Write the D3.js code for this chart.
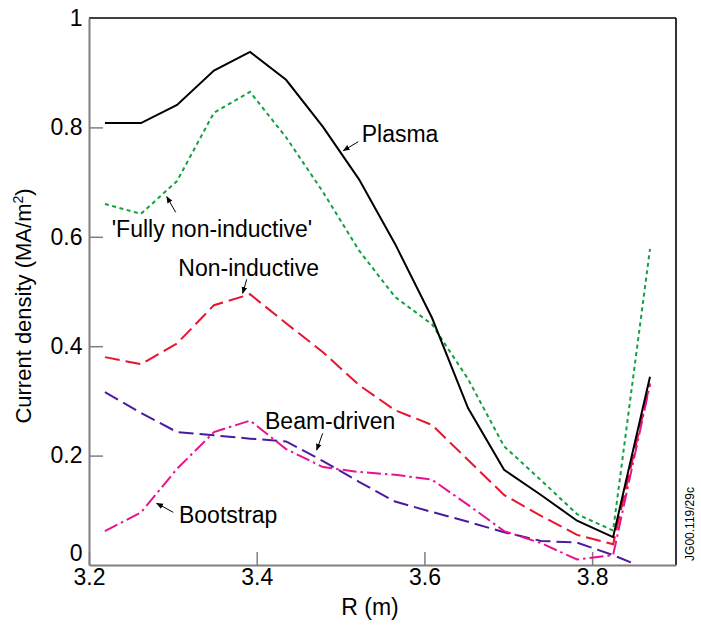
<!DOCTYPE html>
<html>
<head>
<meta charset="utf-8">
<script src="https://cdn.jsdelivr.net/npm/d3@7"></script>
<style>
  html, body { margin: 0; padding: 0; background: #fff; }
  svg { display: block; }
  text { font-family: "Liberation Sans", Arial, sans-serif; fill: #000; }
</style>
</head>
<body>
<svg id="chart" width="701" height="625"></svg>
<script>
// ---------- data ----------
const R = [3.219, 3.262, 3.305, 3.349, 3.392, 3.435, 3.479, 3.522, 3.565, 3.609, 3.652, 3.695, 3.739, 3.782, 3.825, 3.869];
const plasma       = [0.808, 0.808, 0.841, 0.904, 0.938, 0.887, 0.801, 0.705, 0.587, 0.452, 0.287, 0.174, 0.128, 0.081, 0.051, 0.344];
const fullyNonInd  = [0.660, 0.642, 0.702, 0.827, 0.865, 0.782, 0.682, 0.575, 0.490, 0.440, 0.340, 0.217, 0.155, 0.093, 0.063, 0.578];
const nonInductive = [0.380, 0.367, 0.405, 0.475, 0.495, 0.442, 0.389, 0.329, 0.283, 0.256, 0.192, 0.128, 0.090, 0.055, 0.038, 0.332];
const bootstrap    = [0.062, 0.096, 0.176, 0.243, 0.264, 0.212, 0.179, 0.170, 0.165, 0.156, 0.110, 0.062, 0.040, 0.010, 0.018, 0.330];
const R_beam       = [3.219, 3.262, 3.305, 3.349, 3.392, 3.435, 3.479, 3.522, 3.565, 3.609, 3.652, 3.695, 3.739, 3.782, 3.825, 3.849];
const beamDriven   = [0.316, 0.278, 0.243, 0.237, 0.231, 0.226, 0.190, 0.152, 0.116, 0.097, 0.079, 0.060, 0.044, 0.041, 0.018, 0.003];

const xTicks = [3.2, 3.4, 3.6, 3.8];
const xTickLabels = ["3.2", "3.4", "3.6", "3.8"];
const yTicks = [0, 0.2, 0.4, 0.6, 0.8, 1];
const yTickLabels = ["0", "0.2", "0.4", "0.6", "0.8", "1"];

// annotations: label position and arrow (from -> to), in data units
const annLabels = ["Plasma", "'Fully non-inductive'", "Non-inductive", "Beam-driven", "Bootstrap"];
const annTextR  = [3.5252, 3.2271, 3.3065, 3.4099, 3.3073];
const annTextJ  = [0.7742, 0.5996, 0.5283, 0.2495, 0.0773];
const annFromR  = [3.5211, 3.3034, 3.3881, 3.4787, 3.3005];
const annFromJ  = [0.7739, 0.6448, 0.5223, 0.2408, 0.0963];
const annToR    = [3.5033, 3.2927, 3.3833, 3.4715, 3.2807];
const annToJ    = [0.7574, 0.6733, 0.4967, 0.2102, 0.1128];

// ---------- layout ----------
const svg = d3.select("#chart");
const margin = {left: 89, top: 18, right: 25, bottom: 60};
const W = 701, H = 625;
const x = d3.scaleLinear().domain([3.2, 3.9]).range([margin.left, W - margin.right]);
const y = d3.scaleLinear().domain([0, 1]).range([H - margin.bottom, margin.top]);

const axisGray = "#7f7f7f";
const FS = 23;

// frame (top & right in black)
svg.append("line").attr("x1", x(3.2)).attr("x2", x(3.9)).attr("y1", y(1)).attr("y2", y(1))
  .attr("stroke", "#000").attr("stroke-width", 1.6);
svg.append("line").attr("x1", x(3.9)).attr("x2", x(3.9)).attr("y1", y(1)).attr("y2", y(0))
  .attr("stroke", "#000").attr("stroke-width", 1.6);

// y axis
const gy = svg.append("g").attr("transform", `translate(${margin.left},0)`)
  .call(d3.axisLeft(y).tickValues(yTicks).tickFormat((d, i) => yTickLabels[i])
        .tickSize(-14).tickSizeOuter(0).tickPadding(6.5));
gy.select(".domain").attr("stroke", axisGray).attr("stroke-width", 2);
gy.selectAll(".tick line").attr("stroke", axisGray).attr("stroke-width", 1.5)
  .filter(d => d === 0 || d === 1).remove();
gy.selectAll(".tick text").attr("font-size", FS).attr("font-family", null).attr("fill", "#000")
  .attr("dy", d => d === 0 ? "-0.2em" : "0.32em");

// x axis
const gx = svg.append("g").attr("transform", `translate(0,${H - margin.bottom})`)
  .call(d3.axisBottom(x).tickValues(xTicks).tickFormat((d, i) => xTickLabels[i])
        .tickSize(-13).tickSizeOuter(0).tickPadding(4));
gx.select(".domain").attr("stroke", axisGray).attr("stroke-width", 2);
gx.selectAll(".tick line").attr("stroke", axisGray).attr("stroke-width", 1.5);
gx.selectAll(".tick text").attr("font-size", FS).attr("font-family", null).attr("fill", "#000");

// axis titles
svg.append("text").attr("x", 370).attr("y", 615).attr("text-anchor", "middle")
  .attr("font-size", FS).text("R (m)");
const yl = svg.append("text").attr("transform", "translate(31,306) rotate(-90)")
  .attr("text-anchor", "middle").attr("font-size", 22);
yl.append("tspan").text("Current density (MA/m");
yl.append("tspan").attr("font-size", 14).attr("dy", -8).text("2");
yl.append("tspan").attr("dy", 8).text(")");

// ---------- series ----------
const line = d3.line().x(d => x(d[0])).y(d => y(d[1]));
const series = [
  {r: R, v: fullyNonInd,  color: "#12a040", dash: "4,3.5", w: 2},
  {r: R, v: nonInductive, color: "#e8142e", dash: "15,6",  w: 2},
  {r: R_beam, v: beamDriven, color: "#4a1aa0", dash: "15,6", w: 2},
  {r: R, v: bootstrap,    color: "#e8128c", dash: "14,4,2.5,4", w: 2},
  {r: R, v: plasma,       color: "#000000", dash: null,    w: 2}
];
series.forEach(s => {
  svg.append("path")
    .datum(s.r.map((r, i) => [r, s.v[i]]))
    .attr("fill", "none").attr("stroke", s.color).attr("stroke-width", s.w)
    .attr("stroke-linejoin", "miter")
    .attr("stroke-dasharray", s.dash)
    .attr("d", line);
});

// ---------- annotations ----------
svg.append("defs").append("marker")
  .attr("id", "ah").attr("viewBox", "0 0 10 10").attr("refX", 9).attr("refY", 5)
  .attr("markerWidth", 7).attr("markerHeight", 7).attr("markerUnits", "userSpaceOnUse")
  .attr("orient", "auto")
  .append("path").attr("d", "M0,1 L10,5 L0,9 Z").attr("fill", "#000");

annLabels.forEach((t, i) => {
  svg.append("text").attr("x", x(annTextR[i])).attr("y", y(annTextJ[i]))
    .attr("font-size", FS).text(t);
  svg.append("line")
    .attr("x1", x(annFromR[i])).attr("y1", y(annFromJ[i]))
    .attr("x2", x(annToR[i])).attr("y2", y(annToJ[i]))
    .attr("stroke", "#000").attr("stroke-width", 1)
    .attr("marker-end", "url(#ah)");
});

// figure code
svg.append("text").attr("transform", "translate(693.5,524) rotate(-90)")
  .attr("text-anchor", "middle").attr("font-size", 12).text("JG00.119/29c");
</script>
</body>
</html>
